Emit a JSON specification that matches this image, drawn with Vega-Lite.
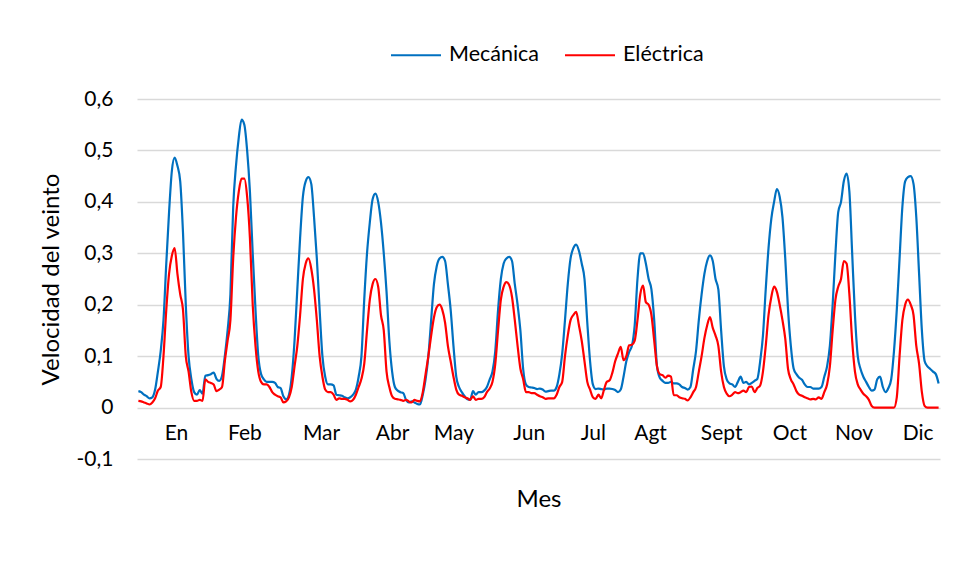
{
  "$schema": "https://vega.github.io/schema/vega-lite/v6.json",
  "width": 803,
  "height": 360,
  "autosize": {"type": "none"},
  "padding": {"left": 137, "top": 99, "right": 17, "bottom": 119},
  "background": "white",
  "config": {"font": "Lato", "view": {"stroke": null}},
  "data": {"values": [
    {"t":0,"Mecánica":0.032,"Eléctrica":0.013},{"t":1,"Mecánica":0.030,"Eléctrica":0.012},{"t":2,"Mecánica":0.025,"Eléctrica":0.010},{"t":3,"Mecánica":0.022,"Eléctrica":0.008},{"t":4,"Mecánica":0.018,"Eléctrica":0.006},{"t":5,"Mecánica":0.020,"Eléctrica":0.010},{"t":6,"Mecánica":0.035,"Eléctrica":0.018},{"t":7,"Mecánica":0.070,"Eléctrica":0.033},{"t":8,"Mecánica":0.110,"Eléctrica":0.040},{"t":9,"Mecánica":0.170,"Eléctrica":0.100},{"t":10,"Mecánica":0.280,"Eléctrica":0.190},{"t":11,"Mecánica":0.380,"Eléctrica":0.260},{"t":12,"Mecánica":0.460,"Eléctrica":0.295},{"t":13,"Mecánica":0.486,"Eléctrica":0.310},{"t":14,"Mecánica":0.470,"Eléctrica":0.260},{"t":15,"Mecánica":0.440,"Eléctrica":0.220},{"t":16,"Mecánica":0.340,"Eléctrica":0.190},{"t":17,"Mecánica":0.200,"Eléctrica":0.100},{"t":18,"Mecánica":0.100,"Eléctrica":0.070},{"t":19,"Mecánica":0.055,"Eléctrica":0.030},{"t":20,"Mecánica":0.030,"Eléctrica":0.013},{"t":21,"Mecánica":0.025,"Eléctrica":0.013},{"t":22,"Mecánica":0.034,"Eléctrica":0.015},{"t":23,"Mecánica":0.027,"Eléctrica":0.013},
    {"t":24,"Mecánica":0.062,"Eléctrica":0.055},{"t":25,"Mecánica":0.063,"Eléctrica":0.050},{"t":26,"Mecánica":0.065,"Eléctrica":0.048},{"t":27,"Mecánica":0.068,"Eléctrica":0.045},{"t":28,"Mecánica":0.056,"Eléctrica":0.032},{"t":29,"Mecánica":0.052,"Eléctrica":0.035},{"t":30,"Mecánica":0.062,"Eléctrica":0.040},{"t":31,"Mecánica":0.100,"Eléctrica":0.090},{"t":32,"Mecánica":0.150,"Eléctrica":0.130},{"t":33,"Mecánica":0.220,"Eléctrica":0.170},{"t":34,"Mecánica":0.390,"Eléctrica":0.290},{"t":35,"Mecánica":0.470,"Eléctrica":0.370},{"t":36,"Mecánica":0.525,"Eléctrica":0.420},{"t":37,"Mecánica":0.560,"Eléctrica":0.445},{"t":38,"Mecánica":0.550,"Eléctrica":0.445},{"t":39,"Mecánica":0.500,"Eléctrica":0.410},{"t":40,"Mecánica":0.420,"Eléctrica":0.330},{"t":41,"Mecánica":0.300,"Eléctrica":0.200},{"t":42,"Mecánica":0.190,"Eléctrica":0.120},{"t":43,"Mecánica":0.100,"Eléctrica":0.070},{"t":44,"Mecánica":0.065,"Eléctrica":0.050},{"t":45,"Mecánica":0.055,"Eléctrica":0.045},{"t":46,"Mecánica":0.050,"Eléctrica":0.045},{"t":47,"Mecánica":0.050,"Eléctrica":0.040},
    {"t":48,"Mecánica":0.050,"Eléctrica":0.030},{"t":49,"Mecánica":0.048,"Eléctrica":0.025},{"t":50,"Mecánica":0.040,"Eléctrica":0.022},{"t":51,"Mecánica":0.038,"Eléctrica":0.020},{"t":52,"Mecánica":0.022,"Eléctrica":0.010},{"t":53,"Mecánica":0.016,"Eléctrica":0.012},{"t":54,"Mecánica":0.025,"Eléctrica":0.020},{"t":55,"Mecánica":0.060,"Eléctrica":0.040},{"t":56,"Mecánica":0.130,"Eléctrica":0.080},{"t":57,"Mecánica":0.230,"Eléctrica":0.120},{"t":58,"Mecánica":0.330,"Eléctrica":0.180},{"t":59,"Mecánica":0.410,"Eléctrica":0.250},{"t":60,"Mecánica":0.440,"Eléctrica":0.280},{"t":61,"Mecánica":0.448,"Eléctrica":0.290},{"t":62,"Mecánica":0.435,"Eléctrica":0.270},{"t":63,"Mecánica":0.370,"Eléctrica":0.230},{"t":64,"Mecánica":0.290,"Eléctrica":0.170},{"t":65,"Mecánica":0.190,"Eléctrica":0.100},{"t":66,"Mecánica":0.100,"Eléctrica":0.060},{"t":67,"Mecánica":0.060,"Eléctrica":0.035},{"t":68,"Mecánica":0.045,"Eléctrica":0.030},{"t":69,"Mecánica":0.045,"Eléctrica":0.030},{"t":70,"Mecánica":0.043,"Eléctrica":0.025},{"t":71,"Mecánica":0.025,"Eléctrica":0.015},
    {"t":72,"Mecánica":0.024,"Eléctrica":0.018},{"t":73,"Mecánica":0.023,"Eléctrica":0.017},{"t":74,"Mecánica":0.020,"Eléctrica":0.017},{"t":75,"Mecánica":0.018,"Eléctrica":0.015},{"t":76,"Mecánica":0.020,"Eléctrica":0.012},{"t":77,"Mecánica":0.025,"Eléctrica":0.015},{"t":78,"Mecánica":0.035,"Eléctrica":0.025},{"t":79,"Mecánica":0.060,"Eléctrica":0.040},{"t":80,"Mecánica":0.100,"Eléctrica":0.056},{"t":81,"Mecánica":0.210,"Eléctrica":0.085},{"t":82,"Mecánica":0.300,"Eléctrica":0.150},{"t":83,"Mecánica":0.360,"Eléctrica":0.210},{"t":84,"Mecánica":0.405,"Eléctrica":0.240},{"t":85,"Mecánica":0.416,"Eléctrica":0.250},{"t":86,"Mecánica":0.400,"Eléctrica":0.235},{"t":87,"Mecánica":0.360,"Eléctrica":0.180},{"t":88,"Mecánica":0.300,"Eléctrica":0.150},{"t":89,"Mecánica":0.225,"Eléctrica":0.070},{"t":90,"Mecánica":0.130,"Eléctrica":0.040},{"t":91,"Mecánica":0.070,"Eléctrica":0.022},{"t":92,"Mecánica":0.040,"Eléctrica":0.017},{"t":93,"Mecánica":0.033,"Eléctrica":0.016},{"t":94,"Mecánica":0.030,"Eléctrica":0.015},{"t":95,"Mecánica":0.028,"Eléctrica":0.013},
    {"t":96,"Mecánica":0.015,"Eléctrica":0.015},{"t":97,"Mecánica":0.010,"Eléctrica":0.012},{"t":98,"Mecánica":0.012,"Eléctrica":0.010},{"t":99,"Mecánica":0.010,"Eléctrica":0.015},{"t":100,"Mecánica":0.007,"Eléctrica":0.013},{"t":101,"Mecánica":0.006,"Eléctrica":0.012},{"t":102,"Mecánica":0.025,"Eléctrica":0.030},{"t":103,"Mecánica":0.055,"Eléctrica":0.065},{"t":104,"Mecánica":0.100,"Eléctrica":0.100},{"t":105,"Mecánica":0.170,"Eléctrica":0.140},{"t":106,"Mecánica":0.240,"Eléctrica":0.175},{"t":107,"Mecánica":0.275,"Eléctrica":0.195},{"t":108,"Mecánica":0.290,"Eléctrica":0.200},{"t":109,"Mecánica":0.293,"Eléctrica":0.190},{"t":110,"Mecánica":0.285,"Eléctrica":0.165},{"t":111,"Mecánica":0.240,"Eléctrica":0.120},{"t":112,"Mecánica":0.190,"Eléctrica":0.090},{"t":113,"Mecánica":0.120,"Eléctrica":0.060},{"t":114,"Mecánica":0.060,"Eléctrica":0.035},{"t":115,"Mecánica":0.040,"Eléctrica":0.025},{"t":116,"Mecánica":0.030,"Eléctrica":0.023},{"t":117,"Mecánica":0.022,"Eléctrica":0.020},{"t":118,"Mecánica":0.016,"Eléctrica":0.018},{"t":119,"Mecánica":0.015,"Eléctrica":0.015},
    {"t":120,"Mecánica":0.032,"Eléctrica":0.022},{"t":121,"Mecánica":0.025,"Eléctrica":0.015},{"t":122,"Mecánica":0.030,"Eléctrica":0.017},{"t":123,"Mecánica":0.030,"Eléctrica":0.017},{"t":124,"Mecánica":0.033,"Eléctrica":0.020},{"t":125,"Mecánica":0.040,"Eléctrica":0.030},{"t":126,"Mecánica":0.055,"Eléctrica":0.037},{"t":127,"Mecánica":0.070,"Eléctrica":0.050},{"t":128,"Mecánica":0.110,"Eléctrica":0.085},{"t":129,"Mecánica":0.190,"Eléctrica":0.150},{"t":130,"Mecánica":0.250,"Eléctrica":0.210},{"t":131,"Mecánica":0.280,"Eléctrica":0.235},{"t":132,"Mecánica":0.290,"Eléctrica":0.244},{"t":133,"Mecánica":0.293,"Eléctrica":0.238},{"t":134,"Mecánica":0.285,"Eléctrica":0.215},{"t":135,"Mecánica":0.240,"Eléctrica":0.170},{"t":136,"Mecánica":0.200,"Eléctrica":0.120},{"t":137,"Mecánica":0.150,"Eléctrica":0.076},{"t":138,"Mecánica":0.075,"Eléctrica":0.055},{"t":139,"Mecánica":0.045,"Eléctrica":0.030},{"t":140,"Mecánica":0.040,"Eléctrica":0.030},{"t":141,"Mecánica":0.039,"Eléctrica":0.028},{"t":142,"Mecánica":0.038,"Eléctrica":0.028},{"t":143,"Mecánica":0.036,"Eléctrica":0.025},
    {"t":144,"Mecánica":0.037,"Eléctrica":0.022},{"t":145,"Mecánica":0.035,"Eléctrica":0.020},{"t":146,"Mecánica":0.031,"Eléctrica":0.017},{"t":147,"Mecánica":0.032,"Eléctrica":0.018},{"t":148,"Mecánica":0.033,"Eléctrica":0.018},{"t":149,"Mecánica":0.033,"Eléctrica":0.018},{"t":150,"Mecánica":0.040,"Eléctrica":0.025},{"t":151,"Mecánica":0.065,"Eléctrica":0.040},{"t":152,"Mecánica":0.105,"Eléctrica":0.050},{"t":153,"Mecánica":0.170,"Eléctrica":0.100},{"t":154,"Mecánica":0.240,"Eléctrica":0.140},{"t":155,"Mecánica":0.290,"Eléctrica":0.170},{"t":156,"Mecánica":0.310,"Eléctrica":0.180},{"t":157,"Mecánica":0.317,"Eléctrica":0.186},{"t":158,"Mecánica":0.305,"Eléctrica":0.160},{"t":159,"Mecánica":0.280,"Eléctrica":0.130},{"t":160,"Mecánica":0.250,"Eléctrica":0.090},{"t":161,"Mecánica":0.165,"Eléctrica":0.050},{"t":162,"Mecánica":0.090,"Eléctrica":0.035},{"t":163,"Mecánica":0.045,"Eléctrica":0.020},{"t":164,"Mecánica":0.036,"Eléctrica":0.017},{"t":165,"Mecánica":0.037,"Eléctrica":0.025},{"t":166,"Mecánica":0.036,"Eléctrica":0.018},{"t":167,"Mecánica":0.035,"Eléctrica":0.035},
    {"t":168,"Mecánica":0.037,"Eléctrica":0.050},{"t":169,"Mecánica":0.037,"Eléctrica":0.053},{"t":170,"Mecánica":0.036,"Eléctrica":0.068},{"t":171,"Mecánica":0.034,"Eléctrica":0.090},{"t":172,"Mecánica":0.030,"Eléctrica":0.105},{"t":173,"Mecánica":0.035,"Eléctrica":0.118},{"t":174,"Mecánica":0.060,"Eléctrica":0.092},{"t":175,"Mecánica":0.090,"Eléctrica":0.100},{"t":176,"Mecánica":0.108,"Eléctrica":0.121},{"t":177,"Mecánica":0.120,"Eléctrica":0.122},{"t":178,"Mecánica":0.160,"Eléctrica":0.130},{"t":179,"Mecánica":0.250,"Eléctrica":0.170},{"t":180,"Mecánica":0.300,"Eléctrica":0.220},{"t":181,"Mecánica":0.300,"Eléctrica":0.237},{"t":182,"Mecánica":0.280,"Eléctrica":0.205},{"t":183,"Mecánica":0.250,"Eléctrica":0.200},{"t":184,"Mecánica":0.230,"Eléctrica":0.180},{"t":185,"Mecánica":0.170,"Eléctrica":0.130},{"t":186,"Mecánica":0.080,"Eléctrica":0.080},{"t":187,"Mecánica":0.058,"Eléctrica":0.065},{"t":188,"Mecánica":0.052,"Eléctrica":0.063},{"t":189,"Mecánica":0.048,"Eléctrica":0.058},{"t":190,"Mecánica":0.048,"Eléctrica":0.062},{"t":191,"Mecánica":0.050,"Eléctrica":0.060},
    {"t":192,"Mecánica":0.047,"Eléctrica":0.024},{"t":193,"Mecánica":0.047,"Eléctrica":0.024},{"t":194,"Mecánica":0.045,"Eléctrica":0.020},{"t":195,"Mecánica":0.040,"Eléctrica":0.018},{"t":196,"Mecánica":0.038,"Eléctrica":0.017},{"t":197,"Mecánica":0.035,"Eléctrica":0.014},{"t":198,"Mecánica":0.040,"Eléctrica":0.020},{"t":199,"Mecánica":0.075,"Eléctrica":0.030},{"t":200,"Mecánica":0.110,"Eléctrica":0.040},{"t":201,"Mecánica":0.170,"Eléctrica":0.070},{"t":202,"Mecánica":0.220,"Eléctrica":0.100},{"t":203,"Mecánica":0.260,"Eléctrica":0.135},{"t":204,"Mecánica":0.285,"Eléctrica":0.160},{"t":205,"Mecánica":0.296,"Eléctrica":0.176},{"t":206,"Mecánica":0.285,"Eléctrica":0.155},{"t":207,"Mecánica":0.250,"Eléctrica":0.140},{"t":208,"Mecánica":0.230,"Eléctrica":0.120},{"t":209,"Mecánica":0.150,"Eléctrica":0.070},{"t":210,"Mecánica":0.080,"Eléctrica":0.040},{"t":211,"Mecánica":0.055,"Eléctrica":0.027},{"t":212,"Mecánica":0.047,"Eléctrica":0.022},{"t":213,"Mecánica":0.045,"Eléctrica":0.025},{"t":214,"Mecánica":0.040,"Eléctrica":0.030},{"t":215,"Mecánica":0.050,"Eléctrica":0.028},
    {"t":216,"Mecánica":0.060,"Eléctrica":0.030},{"t":217,"Mecánica":0.048,"Eléctrica":0.033},{"t":218,"Mecánica":0.050,"Eléctrica":0.030},{"t":219,"Mecánica":0.045,"Eléctrica":0.040},{"t":220,"Mecánica":0.048,"Eléctrica":0.041},{"t":221,"Mecánica":0.052,"Eléctrica":0.030},{"t":222,"Mecánica":0.056,"Eléctrica":0.038},{"t":223,"Mecánica":0.090,"Eléctrica":0.043},{"t":224,"Mecánica":0.140,"Eléctrica":0.070},{"t":225,"Mecánica":0.230,"Eléctrica":0.120},{"t":226,"Mecánica":0.310,"Eléctrica":0.180},{"t":227,"Mecánica":0.367,"Eléctrica":0.215},{"t":228,"Mecánica":0.400,"Eléctrica":0.235},{"t":229,"Mecánica":0.425,"Eléctrica":0.225},{"t":230,"Mecánica":0.410,"Eléctrica":0.200},{"t":231,"Mecánica":0.370,"Eléctrica":0.170},{"t":232,"Mecánica":0.290,"Eléctrica":0.134},{"t":233,"Mecánica":0.190,"Eléctrica":0.075},{"t":234,"Mecánica":0.120,"Eléctrica":0.055},{"t":235,"Mecánica":0.076,"Eléctrica":0.045},{"t":236,"Mecánica":0.065,"Eléctrica":0.032},{"t":237,"Mecánica":0.058,"Eléctrica":0.025},{"t":238,"Mecánica":0.054,"Eléctrica":0.023},{"t":239,"Mecánica":0.045,"Eléctrica":0.020},
    {"t":240,"Mecánica":0.040,"Eléctrica":0.018},{"t":241,"Mecánica":0.040,"Eléctrica":0.016},{"t":242,"Mecánica":0.037,"Eléctrica":0.017},{"t":243,"Mecánica":0.037,"Eléctrica":0.016},{"t":244,"Mecánica":0.037,"Eléctrica":0.020},{"t":245,"Mecánica":0.040,"Eléctrica":0.017},{"t":246,"Mecánica":0.060,"Eléctrica":0.030},{"t":247,"Mecánica":0.080,"Eléctrica":0.045},{"t":248,"Mecánica":0.120,"Eléctrica":0.080},{"t":249,"Mecánica":0.200,"Eléctrica":0.150},{"t":250,"Mecánica":0.300,"Eléctrica":0.210},{"t":251,"Mecánica":0.380,"Eléctrica":0.235},{"t":252,"Mecánica":0.400,"Eléctrica":0.250},{"t":253,"Mecánica":0.440,"Eléctrica":0.285},{"t":254,"Mecánica":0.455,"Eléctrica":0.280},{"t":255,"Mecánica":0.420,"Eléctrica":0.220},{"t":256,"Mecánica":0.300,"Eléctrica":0.130},{"t":257,"Mecánica":0.180,"Eléctrica":0.070},{"t":258,"Mecánica":0.100,"Eléctrica":0.045},{"t":259,"Mecánica":0.075,"Eléctrica":0.035},{"t":260,"Mecánica":0.060,"Eléctrica":0.027},{"t":261,"Mecánica":0.050,"Eléctrica":0.022},{"t":262,"Mecánica":0.040,"Eléctrica":0.015},{"t":263,"Mecánica":0.033,"Eléctrica":0.003},
    {"t":264,"Mecánica":0.035,"Eléctrica":0},{"t":265,"Mecánica":0.055,"Eléctrica":0},{"t":266,"Mecánica":0.060,"Eléctrica":0},{"t":267,"Mecánica":0.040,"Eléctrica":0},{"t":268,"Mecánica":0.030,"Eléctrica":0},{"t":269,"Mecánica":0.038,"Eléctrica":0},{"t":270,"Mecánica":0.055,"Eléctrica":0},{"t":271,"Mecánica":0.110,"Eléctrica":0},{"t":272,"Mecánica":0.190,"Eléctrica":0.020},{"t":273,"Mecánica":0.290,"Eléctrica":0.100},{"t":274,"Mecánica":0.390,"Eléctrica":0.170},{"t":275,"Mecánica":0.440,"Eléctrica":0.200},{"t":276,"Mecánica":0.448,"Eléctrica":0.210},{"t":277,"Mecánica":0.450,"Eléctrica":0.200},{"t":278,"Mecánica":0.435,"Eléctrica":0.180},{"t":279,"Mecánica":0.370,"Eléctrica":0.120},{"t":280,"Mecánica":0.260,"Eléctrica":0.085},{"t":281,"Mecánica":0.150,"Eléctrica":0.030},{"t":282,"Mecánica":0.090,"Eléctrica":0.003},{"t":283,"Mecánica":0.080,"Eléctrica":0},{"t":284,"Mecánica":0.075,"Eléctrica":0},{"t":285,"Mecánica":0.070,"Eléctrica":0},{"t":286,"Mecánica":0.065,"Eléctrica":0},{"t":287,"Mecánica":0.047,"Eléctrica":0}
  ]},
  "transform": [{"fold": ["Mecánica", "Eléctrica"], "as": ["Serie", "Valor"]}],
  "mark": {"type": "line", "interpolate": "monotone", "strokeWidth": 2.2},
  "encoding": {
    "x": {
      "field": "t", "type": "quantitative",
      "scale": {"domain": [-0.5, 287.5], "nice": false, "zero": false},
      "axis": {
        "title": "Mes",
        "values": [13.5, 38, 65.5, 91, 113, 140, 163, 183.5, 209, 233.5, 256.5, 279.5],
        "labelExpr": "['En','Feb','Mar','Abr','May','Jun','Jul','Agt','Sept','Oct','Nov','Dic'][indexof([13.5,38,65.5,91,113,140,163,183.5,209,233.5,256.5,279.5], datum.value)]",
        "grid": false, "domain": false, "ticks": false,
        "offset": -52, "labelPadding": 15, "labelFlush": false, "labelOverlap": false,
        "labelFontSize": 21, "labelColor": "#000000",
        "titleFontSize": 24, "titleFontWeight": "normal", "titleColor": "#000000",
        "titleY": 99, "titleBaseline": "alphabetic"
      }
    },
    "y": {
      "field": "Valor", "type": "quantitative",
      "scale": {"domain": [-0.1, 0.6], "nice": false, "zero": false},
      "axis": {
        "title": "Velocidad del veinto",
        "values": [-0.1, 0, 0.1, 0.2, 0.3, 0.4, 0.5, 0.6],
        "labelExpr": "datum.value == 0 ? '0' : replace(replace(format(datum.value, '.1f'), '.', ','), '−', '-')",
        "domain": false, "ticks": false,
        "gridColor": "#d9d9d9", "gridWidth": 1.3,
        "labelPadding": 24, "labelFontSize": 21, "labelColor": "#000000",
        "titleFontSize": 24, "titleFontWeight": "normal", "titleColor": "#000000",
        "titleX": -74, "titleY": 180, "titleBaseline": "bottom"
      }
    },
    "color": {
      "field": "Serie", "type": "nominal",
      "scale": {"domain": ["Mecánica", "Eléctrica"], "range": ["#0070C0", "#FF0000"]},
      "legend": {
        "title": null, "orient": "none", "direction": "horizontal",
        "legendX": 253, "legendY": -70,
        "symbolType": "stroke", "symbolSize": 2500, "symbolStrokeWidth": 2,
        "labelFontSize": 21.5, "labelColor": "#000000", "labelOffset": 7,
        "columnPadding": 21
      }
    }
  }
}
